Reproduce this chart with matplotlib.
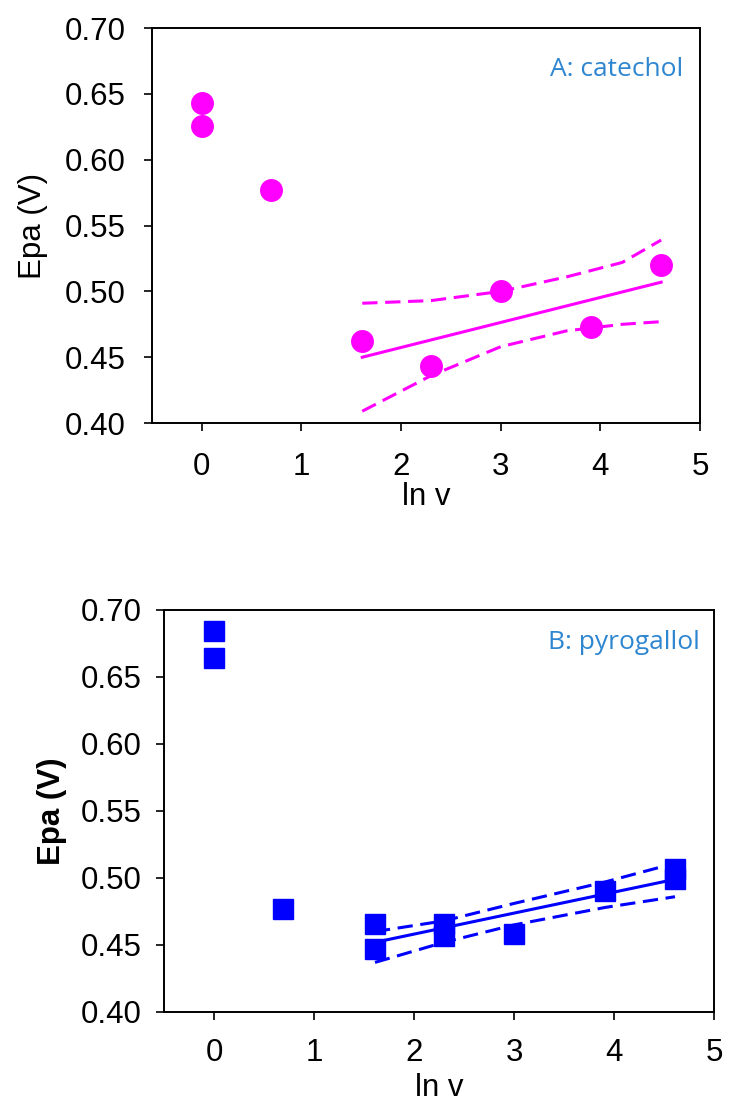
import matplotlib
matplotlib.use('Agg')
import matplotlib.pyplot as plt

plt.rcParams['font.family'] = ['Liberation Sans', 'DejaVu Sans']

# A: catechol (ln v, Epa)
cat_x = [0.0, 0.0, 0.69, 1.61, 2.30, 3.00, 3.91, 4.61]
cat_y = [0.643, 0.626, 0.577, 0.462, 0.443, 0.500, 0.473, 0.520]
cat_fit_x = [1.61, 4.61]
cat_fit_y = [0.450, 0.507]
cat_band_x = [1.61, 2.30, 3.00, 3.66, 4.22, 4.61]
cat_upper = [0.491, 0.493, 0.500, 0.511, 0.522, 0.539]
cat_lower = [0.409, 0.436, 0.458, 0.470, 0.475, 0.477]

# B: pyrogallol
pyr_x = [0.0, 0.0, 0.69, 1.61, 1.61, 2.30, 2.30, 3.00, 3.91, 4.61, 4.61]
pyr_y = [0.684, 0.664, 0.477, 0.466, 0.447, 0.466, 0.457, 0.458, 0.490, 0.507, 0.499]
pyr_fit_x = [1.61, 4.61]
pyr_fit_y = [0.452, 0.499]
pyr_band_x = [1.61, 2.30, 3.00, 3.91, 4.61]
pyr_upper = [0.460, 0.468, 0.481, 0.497, 0.511]
pyr_lower = [0.437, 0.452, 0.465, 0.478, 0.486]

yticks = [0.40, 0.45, 0.50, 0.55, 0.60, 0.65, 0.70]
xticks = [0, 1, 2, 3, 4, 5]

fig = plt.figure(figsize=(7.32, 11.06), dpi=100)
ax1 = fig.add_axes([0.2077, 0.6175, 0.7486, 0.3571])
ax2 = fig.add_axes([0.224, 0.085, 0.7514, 0.3635])

magenta = '#ff00ff'
blue = '#0000ff'
label_blue = '#2e86d0'
dash = (0, (5, 2.5))


def style(ax, xpad, ypad):
    ax.set_xlim(-0.5, 5)
    ax.set_ylim(0.40, 0.70)
    ax.set_xticks(xticks)
    ax.set_yticks(yticks)
    ax.set_yticklabels([f'{v:.2f}' for v in yticks])
    ax.tick_params(direction='out', length=6, width=1.2, labelsize=22.5)
    ax.tick_params(axis='x', pad=xpad)
    ax.tick_params(axis='y', pad=ypad)
    for s in ax.spines.values():
        s.set_linewidth(1.4)


ax1.plot(cat_fit_x, cat_fit_y, color=magenta, lw=2.2)
ax1.plot(cat_band_x, cat_upper, color=magenta, lw=2.2, ls=dash)
ax1.plot(cat_band_x, cat_lower, color=magenta, lw=2.2, ls=dash)
ax1.plot(cat_x, cat_y, 'o', color=magenta, ms=15.5, zorder=5)
ax1.text(0.969, 0.894, 'A: catechol', transform=ax1.transAxes, ha='right', va='center',
         fontsize=19, color=label_blue, family=['Open Sans', 'DejaVu Sans'])
style(ax1, 15, 13)
ax1.set_xlabel('ln v', fontsize=22.5, labelpad=0)
ax1.set_ylabel('Epa (V)', fontsize=22.5, labelpad=12)

ax2.plot(pyr_fit_x, pyr_fit_y, color=blue, lw=2.2)
ax2.plot(pyr_band_x, pyr_upper, color=blue, lw=2.2, ls=dash)
ax2.plot(pyr_band_x, pyr_lower, color=blue, lw=2.2, ls=dash)
ax2.plot(pyr_x, pyr_y, 's', color=blue, ms=14, zorder=5)
ax2.text(0.975, 0.92, 'B: pyrogallol', transform=ax2.transAxes, ha='right', va='center',
         fontsize=19, color=label_blue, family=['Open Sans', 'DejaVu Sans'])
style(ax2, 13, 10)
ax2.set_xlabel('ln v', fontsize=22.5, labelpad=3)
ax2.set_ylabel('Epa (V)', fontsize=22.5, labelpad=10, fontweight='bold')

fig.savefig('out.png', dpi=100)
